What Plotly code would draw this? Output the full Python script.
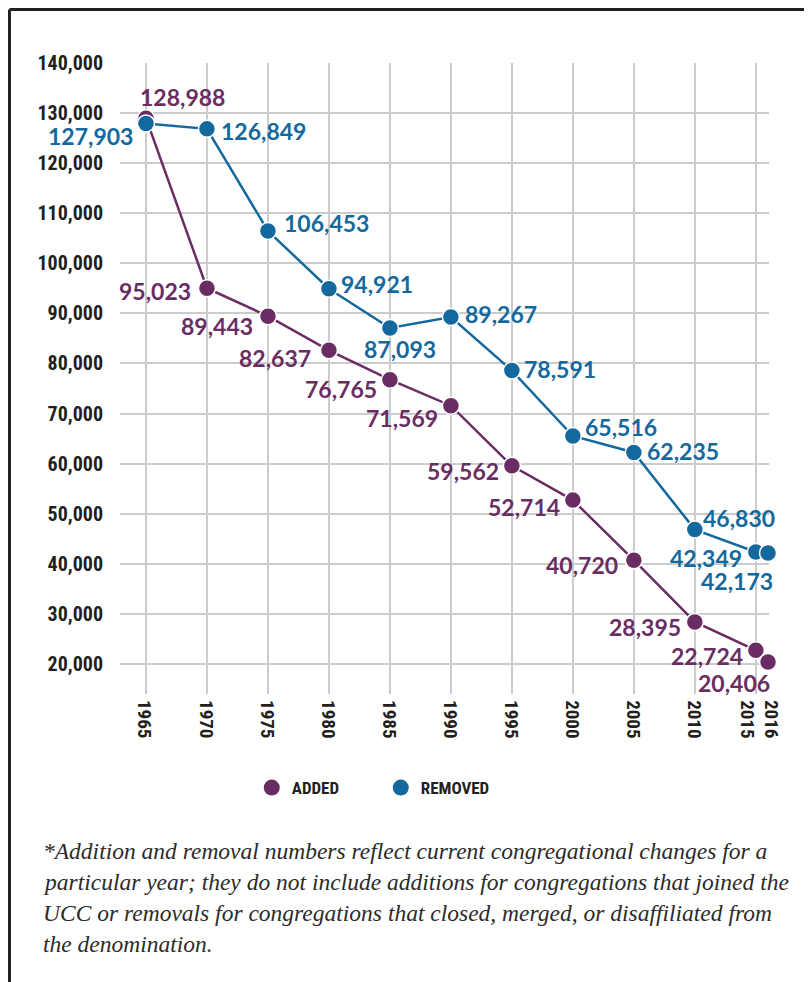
import plotly.graph_objects as go

years = [1965, 1970, 1975, 1980, 1985, 1990, 1995, 2000, 2005, 2010, 2015, 2016]
added = [128988, 95023, 89443, 82637, 76765, 71569, 59562, 52714, 40720, 28395, 22724, 20406]
removed = [127903, 126849, 106453, 94921, 87093, 89267, 78591, 65516, 62235, 46830, 42349, 42173]
y_ticks = [20000, 30000, 40000, 50000, 60000, 70000, 80000, 90000, 100000, 110000, 120000, 130000, 140000]
series_names = ["ADDED", "REMOVED"]
footnote_lines = [
    "*Addition and removal numbers reflect current congregational changes for a",
    "particular year; they do not include additions for congregations that joined the",
    "UCC or removals for congregations that closed, merged, or disaffiliated from",
    "the denomination.",
]

PURPLE = "#6a2d63"
BLUE = "#13699d"
DARK = "#231f20"
GRID = "#cccccc"
COND = "Liberation Sans Narrow, Roboto Condensed, DejaVu Sans Condensed, sans-serif"
LABEL_FONT = "Lato, Open Sans, sans-serif"

# label placement styles: (xanchor, dx px, dy px down)
added_pos = [("center", 37, -21), ("right", -14, 3), ("right", -13, 10), ("right", -16, 8),
             ("right", -11, 9), ("right", -11, 12), ("right", -11, 5), ("right", -11, 7),
             ("right", -14, 5), ("right", -12, 5), ("right", -11, 6), ("right", 4, 21)]
removed_pos = [("right", -11, 12), ("left", 12, 2), ("left", 14, -8), ("left", 10, -5),
               ("center", 10, 21), ("left", 12, -3), ("left", 10, -2), ("left", 10, -9),
               ("left", 11, -1), ("left", 6, -12), ("right", -12, 6), ("right", 7, 28)]
# horizontal nudges of the rotated year labels (px)
year_label_shift = [-1, 0, 0, 0, 0, 0, 0, 0, 0, 0, -8, 4]

fig = go.Figure()
for name, vals, col in [(series_names[0], added, PURPLE), (series_names[1], removed, BLUE)]:
    fig.add_trace(go.Scatter(
        x=years, y=vals, mode="lines+markers", name=name, showlegend=False,
        line=dict(color=col, width=2.5),
        marker=dict(size=17, color=col, line=dict(color="white", width=1.5)),
        cliponaxis=False,
    ))
# legend entries: dot only
for name, col in [(series_names[0], PURPLE), (series_names[1], BLUE)]:
    fig.add_trace(go.Scatter(
        x=[None], y=[None], mode="markers", name=name,
        marker=dict(size=17, color=col),
    ))

annotations = []
for vals, col, pos in [(added, PURPLE, added_pos), (removed, BLUE, removed_pos)]:
    for yr, v, (xa, dx, dy) in zip(years, vals, pos):
        annotations.append(dict(
            x=yr, y=v, xref="x", yref="y", text=f"{v:,}", showarrow=False,
            xanchor=xa, yanchor="middle", xshift=dx, yshift=-dy,
            font=dict(family=LABEL_FONT, size=23, color=col, weight="bold"),
        ))

# year tick labels (rotated)
for yr, sh in zip(years, year_label_shift):
    annotations.append(dict(
        x=yr, y=0, xref="x", yref="paper", text=str(yr), textangle=90, showarrow=False,
        xanchor="center", yanchor="top", xshift=sh, yshift=-4,
        font=dict(family=COND, size=19, color=DARK, weight="bold"),
    ))

for i, line in enumerate(footnote_lines):
    annotations.append(dict(
        x=-0.1217, y=-0.2488 - i * 0.0491, xref="paper", yref="paper", text=line,
        showarrow=False, xanchor="left", yanchor="middle",
        font=dict(family="Liberation Serif, DejaVu Serif, serif", size=23.5, color="#2b2b2b", style="italic"),
    ))

shapes = [
    dict(type="line", xref="paper", yref="paper", x0=-0.1703, x1=1.1, y0=1.0848, y1=1.0848,
         line=dict(color=DARK, width=3)),
    dict(type="line", xref="paper", yref="paper", x0=-0.1703, x1=-0.1703, y0=1.0848, y1=-0.5,
         line=dict(color=DARK, width=3)),
]

fig.update_layout(
    width=804, height=974,
    margin=dict(l=112, r=43, t=55, b=288),
    paper_bgcolor="white", plot_bgcolor="white",
    showlegend=True,
    legend=dict(orientation="h", x=0.203, y=-0.149, xanchor="left", yanchor="middle",
                font=dict(family=COND, size=17, color=DARK, weight="bold"),
                entrywidth=84, entrywidthmode="pixels", itemsizing="trace"),
    annotations=annotations, shapes=shapes,
    xaxis=dict(range=[1962.87, 2016.08], tickmode="array", tickvals=years,
               showticklabels=False,
               showgrid=True, gridcolor=GRID, gridwidth=2, zeroline=False, showline=False,
               ticks=""),
    yaxis=dict(range=[14000, 140000], tickmode="array", tickvals=y_ticks,
               ticktext=[f"{v:,}" for v in y_ticks],
               showgrid=True, gridcolor=GRID, gridwidth=2, zeroline=False, showline=False,
               tickfont=dict(family=COND, size=20, color=DARK, weight="bold"), ticks="", ticklabelstandoff=16),
)

fig.write_html("out.html")
